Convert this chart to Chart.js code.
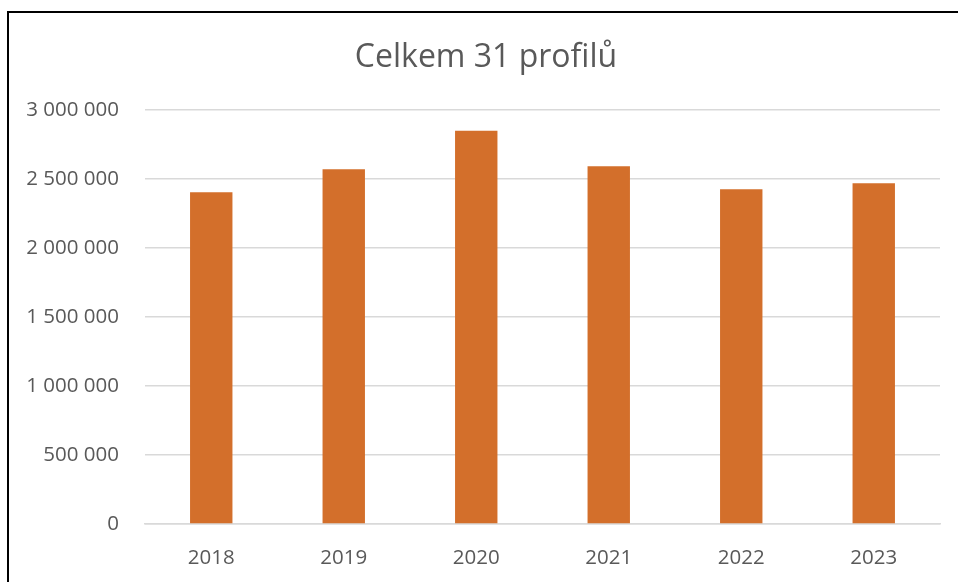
<!DOCTYPE html>
<html>
<head>
<meta charset="utf-8">
<script src="https://cdn.jsdelivr.net/npm/chart.js@4"></script>
<style>
  html, body { margin: 0; padding: 0; background: #fff; overflow: hidden; }
  #frame {
    position: absolute; left: 7px; top: 11px;
    width: 949px; height: 580px;
    border-left: 2px solid #000; border-top: 2px solid #000;
  }
  #wrap { position: relative; width: 949px; height: 580px; }
</style>
</head>
<body>
<div id="frame"><div id="wrap"><canvas id="chart"></canvas></div></div>
<script>
// data
const years = ['2018', '2019', '2020', '2021', '2022', '2023'];
const totals = [2404000, 2570000, 2850000, 2592000, 2425000, 2469000];
const yTicks = [0, 500000, 1000000, 1500000, 2000000, 2500000, 3000000];
const chartTitle = 'Celkem 31 profilů';

const textColor = '#595959';
const fontFamily = '"Open Sans", sans-serif';

// "3 000 000" style labels
function spaced(v) {
    return String(v).replace(/\B(?=(\d{3})+(?!\d))/g, ' ');
}

// title centred on the whole frame (the built-in one centres on the padded box)
const frameTitle = {
    id: 'frameTitle',
    afterDraw(chart) {
        const c = chart.ctx;
        c.save();
        c.font = '32px ' + fontFamily;
        c.fillStyle = textColor;
        c.textAlign = 'center';
        c.textBaseline = 'middle';
        c.fillText(chartTitle, 477, 45);
        c.restore();
    }
};

let ctx = document.getElementById('chart').getContext('2d');

let chart = new Chart(ctx, {
    type: 'bar',
    data: {
        labels: years,
        datasets: [{
            label: 'Celkem',
            data: totals,
            backgroundColor: '#D36F2B',
            borderWidth: 0,
            categoryPercentage: 1.0,
            barPercentage: 0.32
        }]
    },
    plugins: [frameTitle],
    options: {
        responsive: true,
        maintainAspectRatio: false,
        animation: false,
        layout: {
            padding: { left: 0, right: 18, top: 97, bottom: 9 }
        },
        plugins: {
            legend: { display: false },
            tooltip: { enabled: false },
            title: { display: false }
        },
        scales: {
            x: {
                grid: { display: false },
                border: { display: true, color: '#d9d9d9', width: 1.5 },
                ticks: {
                    color: textColor,
                    font: { family: fontFamily, size: 20.5 },
                    padding: 14
                },
                afterFit: (scale) => { scale.height = 60; }
            },
            y: {
                min: 0,
                max: 3000000,
                afterBuildTicks: (scale) => {
                    scale.ticks = yTicks.map(v => ({ value: v }));
                },
                grid: { color: '#d9d9d9', lineWidth: 1.5, drawTicks: false },
                border: { display: false },
                ticks: {
                    color: textColor,
                    font: { family: fontFamily, size: 20.5 },
                    padding: 26,
                    callback: (v) => spaced(v)
                },
                afterFit: (scale) => { scale.width = 136; }
            }
        }
    }
});
</script>
</body>
</html>
